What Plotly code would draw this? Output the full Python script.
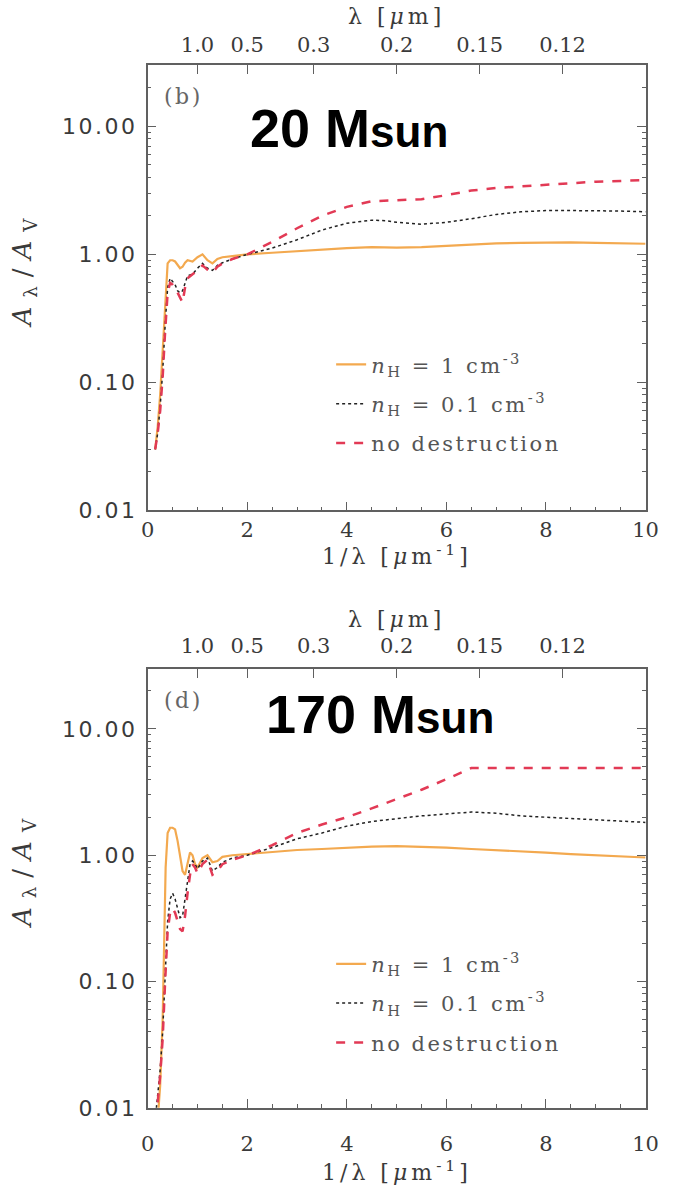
import math
import plotly.graph_objects as go

# ---------------- data ----------------
# Panel (b): 20 Msun
x_b_n1 = [0.15, 0.2, 0.25, 0.3, 0.35, 0.4, 0.45, 0.5, 0.55, 0.6, 0.65, 0.7, 0.75, 0.8, 0.9, 1.0, 1.1, 1.2, 1.3, 1.4, 1.5, 1.7, 2.0,
          2.5, 3.0, 3.5, 4.0, 4.5, 5.0, 5.5, 6.0, 6.5, 7.0, 7.5, 8.0, 8.5, 9.0, 9.5, 10.0]
y_b_n1 = [0.03, 0.045, 0.08, 0.18, 0.45, 0.85, 0.9, 0.9, 0.88, 0.82, 0.78, 0.8, 0.86, 0.9, 0.88, 0.95, 1.0, 0.9, 0.85, 0.92, 0.95, 0.97, 1.0,
          1.03, 1.06, 1.09, 1.12, 1.14, 1.13, 1.14, 1.17, 1.2, 1.22, 1.23, 1.24, 1.24, 1.23, 1.22, 1.21]

x_b_n01 = [0.15, 0.2, 0.25, 0.3, 0.35, 0.4, 0.45, 0.5, 0.55, 0.6, 0.65, 0.7, 0.75, 0.8, 0.9, 1.0, 1.1, 1.2, 1.3, 1.4, 1.5, 1.7, 2.0,
           2.5, 3.0, 3.5, 4.0, 4.5, 4.8, 5.0, 5.5, 6.0, 6.5, 7.0, 7.5, 8.0, 8.5, 9.0, 9.5, 10.0]
y_b_n01 = [0.03, 0.04, 0.065, 0.12, 0.28, 0.55, 0.65, 0.62, 0.58, 0.52, 0.5, 0.52, 0.6, 0.68, 0.7, 0.78, 0.85, 0.78, 0.75, 0.82, 0.86, 0.92, 1.0,
           1.12, 1.3, 1.55, 1.75, 1.85, 1.83, 1.78, 1.72, 1.78, 1.9, 2.05, 2.15, 2.2, 2.2, 2.2, 2.18, 2.15]

x_b_nd = [0.15, 0.2, 0.25, 0.3, 0.35, 0.4, 0.45, 0.5, 0.55, 0.6, 0.65, 0.7, 0.75, 0.8, 0.9, 1.0, 1.1, 1.2, 1.3, 1.4, 1.5, 1.7, 2.0,
          2.5, 3.0, 3.5, 4.0, 4.5, 5.0, 5.5, 6.0, 6.5, 7.0, 7.5, 8.0, 8.5, 9.0, 9.5, 10.0]
y_b_nd = [0.03, 0.04, 0.06, 0.11, 0.25, 0.5, 0.6, 0.58, 0.55, 0.5, 0.45, 0.42, 0.55, 0.65, 0.7, 0.75, 0.82, 0.76, 0.72, 0.8, 0.85, 0.92, 1.0,
          1.25, 1.6, 2.0, 2.35, 2.6, 2.65, 2.7, 2.9, 3.15, 3.3, 3.4, 3.5, 3.6, 3.7, 3.75, 3.8]

# Panel (d): 170 Msun
x_d_n1 = [0.2, 0.25, 0.3, 0.33, 0.36, 0.4, 0.45, 0.5, 0.55, 0.6, 0.65, 0.7, 0.75, 0.8, 0.85, 0.9, 0.95, 1.0, 1.1, 1.2, 1.3, 1.4, 1.5, 1.7, 2.0,
          2.5, 3.0, 3.5, 4.0, 4.5, 5.0, 5.5, 6.0, 6.5, 7.0, 7.5, 8.0, 8.5, 9.0, 9.5, 10.0]
y_d_n1 = [0.008, 0.015, 0.05, 0.2, 0.8, 1.5, 1.65, 1.65, 1.6, 1.3, 0.95, 0.75, 0.7, 0.85, 1.05, 1.0, 0.85, 0.8, 0.95, 1.0, 0.88, 0.9, 0.97, 1.0, 1.02,
          1.06, 1.1, 1.12, 1.15, 1.17, 1.18, 1.17, 1.15, 1.12, 1.1, 1.08, 1.05, 1.02, 1.0, 0.98, 0.96]

x_d_n01 = [0.15, 0.2, 0.25, 0.3, 0.35, 0.4, 0.45, 0.5, 0.55, 0.6, 0.65, 0.7, 0.75, 0.8, 0.85, 0.9, 0.95, 1.0, 1.1, 1.2, 1.3, 1.4, 1.5, 1.7, 2.0,
           2.5, 3.0, 3.5, 4.0, 4.5, 5.0, 5.5, 6.0, 6.5, 7.0, 7.5, 8.0, 8.5, 9.0, 9.5, 10.0]
y_d_n01 = [0.008, 0.012, 0.02, 0.04, 0.12, 0.3, 0.45, 0.5, 0.45, 0.38, 0.32, 0.33, 0.45, 0.65, 0.85, 0.9, 0.85, 0.78, 0.9, 0.95, 0.75, 0.8, 0.88, 0.95, 1.0,
           1.15, 1.35, 1.5, 1.7, 1.85, 1.95, 2.05, 2.12, 2.2, 2.15, 2.05, 2.0, 1.95, 1.9, 1.85, 1.82]

x_d_nd = [0.15, 0.2, 0.25, 0.3, 0.35, 0.4, 0.45, 0.5, 0.55, 0.6, 0.65, 0.7, 0.75, 0.8, 0.85, 0.9, 0.95, 1.0, 1.1, 1.2, 1.3, 1.4, 1.5, 1.7, 2.0,
          2.5, 3.0, 3.5, 4.0, 4.5, 5.0, 5.5, 6.0, 6.5, 7.0, 7.5, 8.0, 8.5, 9.0, 9.5, 10.0]
y_d_nd = [0.008, 0.011, 0.018, 0.035, 0.1, 0.25, 0.35, 0.38, 0.35, 0.3, 0.26, 0.25, 0.33, 0.5, 0.7, 0.85, 0.8, 0.72, 0.85, 0.92, 0.7, 0.75, 0.85, 0.92, 1.0,
          1.2, 1.5, 1.75, 2.0, 2.35, 2.8, 3.3, 4.0, 4.9, 4.9, 4.9, 4.9, 4.9, 4.9, 4.9, 4.9]

# axis ticks
x_tickvals = [0, 2, 4, 6, 8, 10]
x_minor = [0.5, 1, 1.5, 2.5, 3, 3.5, 4.5, 5, 5.5, 6.5, 7, 7.5, 8.5, 9, 9.5]
lam_labels = ["1.0", "0.5", "0.3", "0.2", "0.15", "0.12"]
lam_values = [1.0, 0.5, 0.3, 0.2, 0.15, 0.12]
y_tickvals = [0.01, 0.1, 1, 10]
y_ticktext = ["0.01", "0.10", "1.00", "10.00"]
y_minor = [m * 10 ** e for e in (-2, -1, 0, 1) for m in range(2, 10)]
y_ranges = [(0.01, 30.0), (0.01, 30.0)]

panel_labels = ["(b)", "(d)"]
panel_titles = ["20 M", "170 M"]
series_names = ["<i>n</i><sub>H</sub> = 1 cm<sup>-3</sup>",
                "<i>n</i><sub>H</sub> = 0.1 cm<sup>-3</sup>",
                "no destruction"]

# ---------------- style ----------------
W, H = 677, 1199
C_OR = "#f3a94f"
C_BK = "#222222"
C_RD = "#e23a55"
AX = "#606060"
TXT = "#3a3a3a"
SERIF = "DejaVu Serif"
SANS = "DejaVu Sans"

x0_px, x1_px = 145, 658
panels_px = [(66, 516), (676, 1120)]
title_x_px = [248, 265]
title_y_off = [63, 46]
bottom_standoff = [0, 16]
top_standoff = [8, 10]
xtitle_off = [45, 64]
lamtitle_off = [49, 50]


def py(p):
    return 1 - p / H


def spaced(s, ls):
    return "<span style='letter-spacing:%gpx'>%s</span>" % (ls, s)


fig = go.Figure()

data = [
    [(x_b_n1, y_b_n1), (x_b_n01, y_b_n01), (x_b_nd, y_b_nd)],
    [(x_d_n1, y_d_n1), (x_d_n01, y_d_n01), (x_d_nd, y_d_nd)],
]
styles = [dict(color=C_OR, width=2.2, dash="solid"),
          dict(color=C_BK, width=1.5, dash="dot"),
          dict(color=C_RD, width=2.5, dash="dash")]

xnames = [("x", "x2"), ("x3", "x4")]
ynames = ["y", "y2"]
for i, panel in enumerate(data):
    leg = "legend" if i == 0 else "legend2"
    for j, (xs, ys) in enumerate(panel):
        fig.add_trace(go.Scatter(x=xs, y=ys, mode="lines", line=styles[j], name=spaced(series_names[j], 2.5),
                                 xaxis=xnames[i][0], yaxis=ynames[i], legend=leg, legendgroup="g%d%d" % (i, j),
                                 showlegend=True))
    # invisible trace so the top wavelength axis is drawn
    fig.add_trace(go.Scatter(x=[None], y=[None], xaxis=xnames[i][1], yaxis=ynames[i], showlegend=False))

xdom = [x0_px / W, x1_px / W]
layout = {}
for i, (t, b) in enumerate(panels_px):
    xa, xa2 = xnames[i]
    ya = ynames[i]
    axkey = lambda n: n.replace("x", "xaxis").replace("y", "yaxis")
    layout[axkey(xa)] = dict(domain=xdom, anchor=ya, range=[0, 10], showline=True, linecolor=AX, linewidth=1.5,
                             mirror=True, ticks="inside", ticklen=9, tickcolor=AX, tickwidth=1,
                             tickvals=x_tickvals, ticktext=[str(v) for v in x_tickvals],
                             ticklabelstandoff=bottom_standoff[i],
                             minor=dict(tickvals=x_minor, ticks="inside", ticklen=4, tickcolor=AX),
                             tickfont=dict(family=SERIF, size=21, color=TXT), showgrid=False, zeroline=False)
    layout[axkey(xa2)] = dict(overlaying=xa, anchor=ya, side="top", range=[0, 10], showline=False,
                              ticks="inside", ticklen=9, tickcolor=AX,
                              tickvals=[1 / v for v in lam_values], ticktext=lam_labels,
                              ticklabelstandoff=top_standoff[i],
                              tickfont=dict(family=SERIF, size=21, color=TXT), showgrid=False, zeroline=False)
    lo, hi = y_ranges[i]
    layout[axkey(ya)] = dict(domain=[py(b), py(t)], anchor=xa, type="log", range=[math.log10(lo), math.log10(hi)],
                             showline=True, linecolor=AX, linewidth=1.5, mirror="ticks", ticks="inside",
                             ticklen=9, tickcolor=AX, tickvals=y_tickvals,
                             ticktext=[spaced(s, 2.5) for s in y_ticktext], ticklabelstandoff=4,
                             minor=dict(tickvals=y_minor, ticks="inside", ticklen=4, tickcolor=AX),
                             tickfont=dict(family=SANS, size=22, color=TXT), showgrid=False, zeroline=False)
fig.update_layout(**layout)

leg_common = dict(font=dict(family=SERIF, size=21, color="#555"), bgcolor="rgba(0,0,0,0)",
                  xanchor="left", yanchor="top", tracegroupgap=9, itemwidth=30, traceorder="grouped")
fig.update_layout(
    legend=dict(x=334 / W, y=py(348), **leg_common),
    legend2=dict(x=334 / W, y=py(954), **leg_common),
)

annotations = []
for i, (t, b) in enumerate(panels_px):
    cx = (x0_px + x1_px) / 2 / W
    annotations.append(dict(text=spaced(panel_labels[i], 2.5), x=160 / W, y=py(t + 32), xref="paper", yref="paper",
                            xanchor="left", yanchor="middle", showarrow=False,
                            font=dict(family=SERIF, size=22, color="#666")))
    annotations.append(dict(text="<b>" + panel_titles[i] + "<span style='font-size:44px'>sun</span></b>",
                            x=title_x_px[i] / W, y=py(t + title_y_off[i]), xref="paper", yref="paper",
                            xanchor="left", yanchor="middle", showarrow=False,
                            font=dict(family="Liberation Sans, Arial", size=54, color="black")))
    annotations.append(dict(text=spaced("1/λ [<i>μ</i>m<sup>-1</sup>]", 4), x=cx, y=py(b + xtitle_off[i]),
                            xref="paper", yref="paper", xanchor="center", yanchor="middle", showarrow=False,
                            font=dict(family=SERIF, size=22, color=TXT)))
    annotations.append(dict(text=spaced("λ [<i>μ</i>m]", 4), x=cx, y=py(t - lamtitle_off[i]),
                            xref="paper", yref="paper", xanchor="center", yanchor="middle", showarrow=False,
                            font=dict(family=SERIF, size=22, color=TXT)))
    annotations.append(dict(text=spaced("<i>A</i><sub>λ</sub>/<i>A</i><sub>V</sub>", 9), x=17 / W,
                            y=py((t + b) / 2 - 20), xref="paper", yref="paper", xanchor="center", yanchor="middle",
                            showarrow=False, textangle=-90, font=dict(family=SERIF, size=26, color=TXT)))

fig.update_layout(annotations=annotations, width=W, height=H, margin=dict(l=0, r=0, t=0, b=0),
                  paper_bgcolor="white", plot_bgcolor="white")

fig.write_html("out.html")
